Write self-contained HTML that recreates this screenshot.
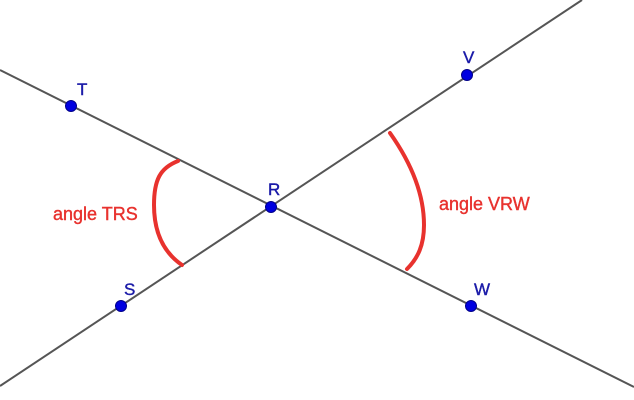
<!DOCTYPE html>
<html><head><style>body{margin:0;background:#fff}svg{display:block}</style></head>
<body>
<svg width="634" height="400" viewBox="0 0 634 400" xmlns="http://www.w3.org/2000/svg">
<g stroke="#555" stroke-width="2">
<line x1="0" y1="70" x2="634" y2="387"/>
<line x1="0" y1="386" x2="582" y2="0"/>
</g>
<g fill="none" stroke="#e8322e" stroke-width="4" stroke-linecap="round">
<path d="M178,161 C160,168 154,180 154,205 C154,232 163,252 182,265"/>
<path d="M390,133 C402,150 424,185 424,225 C424,245 418,258 407,269"/>
</g>
<g fill="#0000e0" stroke="#00008a" stroke-width="1">
<circle cx="71" cy="106" r="5.5"/>
<circle cx="271" cy="207" r="5.5"/>
<circle cx="121" cy="306" r="5.5"/>
<circle cx="467" cy="75" r="5.5"/>
<circle cx="471" cy="306" r="5.5"/>
</g>
<g font-family="Liberation Sans, sans-serif" font-size="17" fill="#1a1aa8" stroke="#1a1aa8" stroke-width="0.4">
<text x="77" y="95">T</text>
<text x="268" y="195">R</text>
<text x="124" y="295">S</text>
<text x="463" y="63">V</text>
<text x="474" y="295">W</text>
</g>
<g font-family="Liberation Sans, sans-serif" font-size="18" fill="#e8322e" stroke="#e8322e" stroke-width="0.4">
<text x="53" y="220">angle TRS</text>
<text x="439" y="210">angle VRW</text>
</g>
</svg>
</body></html>
